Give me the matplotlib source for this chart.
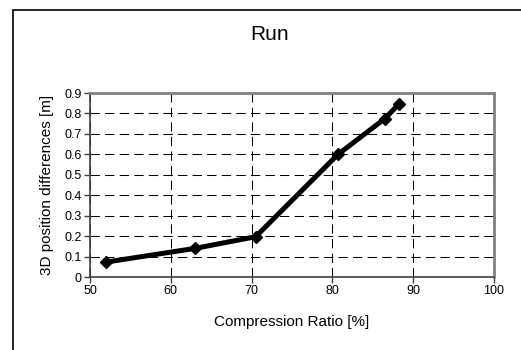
import numpy as np
import matplotlib.pyplot as plt
from matplotlib.patches import Rectangle

plt.rcParams['font.family'] = ['Liberation Sans', 'DejaVu Sans']

ratio = [52.0, 63.0, 70.5, 80.7, 86.5, 88.2]
diff = [0.073, 0.140, 0.197, 0.600, 0.775, 0.845]

xticks = [50, 60, 70, 80, 90, 100]
yticks = [0, 0.1, 0.2, 0.3, 0.4, 0.5, 0.6, 0.7, 0.8, 0.9]

fig = plt.figure(figsize=(5.21, 3.5), dpi=100)
# outer chart frame (only left and top edges visible)
fig.patches.append(Rectangle((13/521, -0.1), 1.2, 0.971 + 0.1, transform=fig.transFigure,
                             fill=False, edgecolor='black', linewidth=1.2))

ax = fig.add_axes([90/521, 1 - 277/350, 404/521, 184/350])
ax.plot(ratio, diff, color='black', linewidth=3.6, marker='D', markersize=6.5,
        zorder=3, clip_on=False)

ax.set_xlim(50, 100)
ax.set_ylim(0, 0.9)
ax.set_xticks(xticks)
ax.set_yticks(yticks)
ax.set_yticklabels(['0' if v == 0 else '%.1f' % v for v in yticks])
ax.grid(True, color='black', linestyle=(0, (9, 5)), linewidth=0.75)
for s in ['top', 'right']:
    ax.spines[s].set_color('#808080')
    ax.spines[s].set_linewidth(2)
for s in ['left', 'bottom']:
    ax.spines[s].set_color('#404040')
    ax.spines[s].set_linewidth(1.2)
ax.tick_params(labelsize=9, length=4, width=1, direction='out', colors='#404040',
               labelcolor='black', pad=2)

ax.set_xlabel('Compression Ratio [%]', fontsize=11)
ax.set_ylabel('3D position differences [m]', fontsize=11)
ax.xaxis.set_label_coords(0.5, -0.245)
ax.yaxis.set_label_coords(-0.106, 0.5)
ax.xaxis.label.set_va('center')
ax.yaxis.label.set_va('center')
fig.text(270/521, 1 - 35/350, 'Run', ha='center', va='center', fontsize=15)

fig.savefig('out.png', dpi=100)
